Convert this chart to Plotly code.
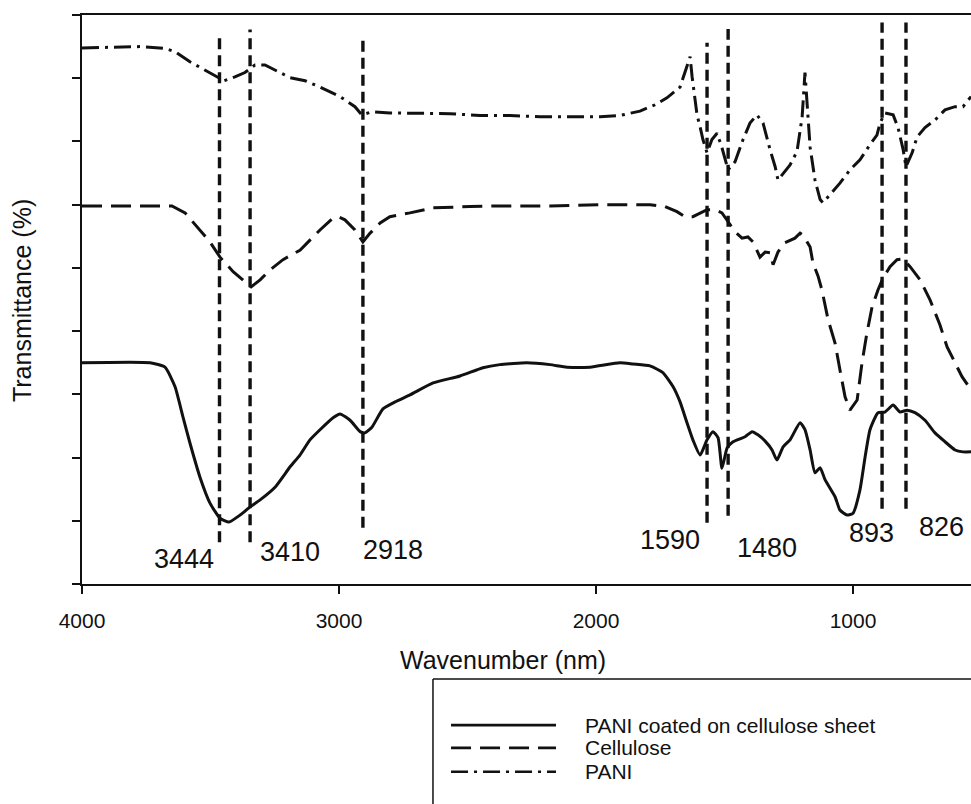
import plotly.graph_objects as go

# ---------------- data ----------------
# PANI coated on cellulose sheet (solid)
wn_coated = [4000, 3735, 3677, 3638, 3607, 3580, 3541, 3502, 3463, 3428, 3385, 3346, 3307, 3249,
             3191, 3152, 3113, 3074, 3023, 2996, 2957, 2918, 2899, 2872, 2829, 2782, 2724, 2634,
             2529, 2440, 2374, 2269, 2179, 2113, 2023, 1907, 1856, 1790, 1739, 1700, 1673, 1646,
             1623, 1595, 1568, 1545, 1525, 1510, 1490, 1467, 1420, 1393, 1370, 1342, 1315, 1296,
             1272, 1245, 1206, 1187, 1167, 1148, 1128, 1109, 1070, 1051, 1023, 1000, 973, 953,
             934, 903, 876, 844, 817, 790, 759, 720, 681, 642, 603, 572, 541]
t_coated = [35.0, 35.0, 34.3, 31.2, 26.4, 22.3, 16.9, 12.8, 10.4, 9.8, 10.9, 12.2, 13.3, 15.3,
            18.5, 20.4, 22.8, 24.4, 26.3, 26.9, 25.9, 24.1, 23.9, 24.8, 27.7, 28.8, 29.9, 31.8,
            32.9, 34.2, 34.7, 35.0, 34.7, 34.3, 34.3, 35.0, 34.8, 34.5, 33.4, 31.2, 28.8, 25.5,
            22.8, 20.4, 22.8, 24.1, 23.1, 18.3, 21.5, 22.5, 23.3, 24.1, 23.6, 22.6, 21.2, 19.6,
            21.7, 22.8, 25.5, 24.4, 21.2, 17.6, 18.4, 16.5, 13.8, 11.7, 10.9, 11.2, 14.9, 20.1,
            24.4, 27.1, 27.2, 28.3, 27.2, 27.5, 27.1, 25.9, 23.9, 22.5, 21.2, 20.9, 20.9]

# Cellulose (dashed)
wn_cell = [4000, 3650, 3599, 3541, 3502, 3463, 3412, 3366, 3342, 3307, 3268, 3218, 3152, 3113,
           3074, 3023, 3004, 2977, 2938, 2907, 2879, 2840, 2802, 2724, 2634, 2490, 2374, 2179,
           1957, 1790, 1732, 1685, 1654, 1623, 1595, 1568, 1537, 1510, 1486, 1459, 1432, 1409,
           1389, 1362, 1342, 1323, 1311, 1292, 1265, 1226, 1206, 1195, 1167, 1156, 1136, 1121,
           1097, 1070, 1051, 1031, 1012, 984, 965, 946, 926, 903, 883, 856, 829, 805, 778, 739,
           700, 662, 634, 603, 576, 541]
t_cell = [59.8, 59.8, 58.7, 56.0, 54.1, 51.7, 49.4, 47.8, 47.0, 48.1, 49.7, 51.3, 52.8, 54.4,
          56.0, 57.9, 58.1, 57.6, 56.0, 54.1, 55.5, 57.1, 58.1, 58.7, 59.5, 59.7, 59.8, 59.8,
          60.0, 60.0, 59.7, 58.9, 58.1, 58.1, 58.7, 59.2, 59.2, 58.7, 57.3, 55.7, 54.7, 54.9,
          54.1, 51.7, 52.5, 52.4, 50.5, 52.5, 54.0, 54.7, 55.5, 55.2, 53.3, 50.8, 48.7, 46.5,
          41.8, 38.1, 33.9, 29.6, 27.5, 29.1, 35.0, 39.7, 43.8, 46.5, 48.4, 50.2, 51.3, 51.4,
          50.2, 48.1, 44.9, 41.0, 37.5, 35.0, 32.8, 30.7]

# PANI (dash-dot)
wn_pani = [4000, 3774, 3677, 3638, 3580, 3521, 3482, 3447, 3405, 3366, 3327, 3288, 3230, 3191,
           3132, 3074, 2996, 2938, 2911, 2872, 2802, 2685, 2568, 2451, 2335, 2218, 2101, 1984,
           1907, 1829, 1770, 1724, 1673, 1646, 1634, 1626, 1615, 1607, 1595, 1584, 1568, 1549,
           1529, 1510, 1486, 1459, 1428, 1401, 1374, 1350, 1323, 1303, 1292, 1272, 1245, 1218,
           1198, 1187, 1179, 1167, 1148, 1128, 1117, 1089, 1051, 1012, 973, 934, 907, 895, 876,
           844, 825, 805, 794, 770, 751, 720, 681, 642, 603, 572, 541]
t_pani = [84.8, 85.0, 84.7, 84.2, 82.6, 81.2, 80.4, 79.6, 80.2, 80.9, 82.1, 82.1, 80.9, 80.1,
          79.6, 78.6, 77.1, 75.5, 74.2, 74.7, 74.5, 74.5, 74.4, 74.1, 74.1, 73.9, 73.9, 73.9,
          74.1, 74.8, 75.8, 76.9, 78.6, 81.8, 83.4, 80.2, 77.1, 74.2, 72.3, 70.3, 68.2, 70.3,
          71.3, 69.0, 65.5, 66.8, 70.3, 72.9, 74.2, 72.9, 68.7, 66.0, 63.9, 65.0, 66.3, 68.4,
          73.9, 80.9, 76.1, 69.1, 63.9, 60.8, 60.3, 61.6, 63.4, 65.5, 67.1, 69.5, 71.0, 72.9,
          74.5, 74.2, 72.2, 68.7, 66.0, 68.2, 70.7, 72.2, 73.4, 75.0, 75.5, 75.5, 77.1]

# marked bands: drawn position, label text, label position
band_x = [3465, 3346, 2907, 1568, 1486, 887, 794]
band_top = [86.4, 87.7, 86.6, 85.6, 87.8, 88.8, 88.8]
band_bottom = [6.6, 6.6, 8.9, 9.7, 10.8, 11.9, 11.9]
band_labels = ["3444", "3410", "2918", "1590", "1480", "893", "826"]
label_x = [3603, 3191, 2790, 1712, 1335, 930, 654]
label_y = [4.0, 5.1, 5.4, 7.0, 5.7, 8.1, 9.0]

x_ticks = [4000, 3000, 2000, 1000]
y_ticks = [0, 10, 20, 30, 40, 50, 60, 70, 80, 90]

series_names = ["PANI coated on cellulose sheet", "Cellulose", "PANI"]

# ---------------- figure ----------------
FONT = "Arial, Liberation Sans, Helvetica, sans-serif"
INK = "#111111"
dash_styles = ["solid", "20px,9px", "17px,6px,3px,6px"]

fig = go.Figure()
series = [(wn_coated, t_coated), (wn_cell, t_cell), (wn_pani, t_pani)]
for (xs, ys), name, dsh in zip(series, series_names, dash_styles):
    fig.add_trace(go.Scatter(
        x=xs, y=ys, mode="lines", name=name,
        line=dict(color=INK, width=3, dash=dsh,
                  shape="spline" if dsh == "solid" else "linear", smoothing=0.5),
        showlegend=False, hoverinfo="skip"))

for bx, b0, b1 in zip(band_x, band_bottom, band_top):
    fig.add_trace(go.Scatter(
        x=[bx, bx], y=[b0, b1], mode="lines",
        line=dict(color=INK, width=3.4, dash="11px,6px"),
        showlegend=False, hoverinfo="skip"))

for txt, lx, ly in zip(band_labels, label_x, label_y):
    fig.add_annotation(x=lx, y=ly, xref="x", yref="y", text=txt, showarrow=False,
                       font=dict(family=FONT, size=27, color=INK),
                       xanchor="center", yanchor="middle")

# axis titles
fig.add_annotation(x=0.4736, y=-0.134, xref="paper", yref="paper", text="Wavenumber (nm)",
                   showarrow=False, font=dict(family=FONT, size=25, color=INK),
                   xanchor="center", yanchor="middle")
fig.add_annotation(x=-0.0675, y=0.499, xref="paper", yref="paper", text="Transmittance (%)",
                   showarrow=False, textangle=-90, font=dict(family=FONT, size=25, color=INK),
                   xanchor="center", yanchor="middle")

# hand-drawn legend box as in the original (runs off the right and bottom edges)
fig.add_shape(type="line", xref="paper", yref="paper", x0=0.3948, x1=1.0, y0=-0.167, y1=-0.167,
              line=dict(color=INK, width=1.5))
fig.add_shape(type="line", xref="paper", yref="paper", x0=0.3948, x1=0.3948, y0=-0.167, y1=-0.42,
              line=dict(color=INK, width=1.5))
leg_y = [-0.248, -0.288, -0.330]
for name, dsh, ly in zip(series_names, dash_styles, leg_y):
    fig.add_shape(type="line", xref="paper", yref="paper", x0=0.4151, x1=0.5332, y0=ly, y1=ly,
                  line=dict(color=INK, width=2.6, dash=dsh))
    fig.add_annotation(x=0.5636, y=ly, xref="paper", yref="paper", text=name, showarrow=False,
                       font=dict(family=FONT, size=21, color=INK),
                       xanchor="left", yanchor="middle")

fig.update_layout(
    width=971, height=804, autosize=False,
    margin=dict(l=82, r=0, t=15, b=220),
    paper_bgcolor="white", plot_bgcolor="white",
    showlegend=False,
    xaxis=dict(range=[4000, 541], tickvals=x_ticks, ticktext=[str(v) for v in x_ticks],
               ticks="outside", ticklen=8, tickwidth=1.5, tickcolor=INK,
               showline=True, linecolor=INK, linewidth=1.5, mirror=True,
               showgrid=False, zeroline=False, ticklabelstandoff=9,
               tickfont=dict(family=FONT, size=21, color=INK)),
    yaxis=dict(range=[0, 90], tickvals=y_ticks, showticklabels=False,
               ticks="outside", ticklen=8, tickwidth=1.5, tickcolor=INK,
               showline=True, linecolor=INK, linewidth=1.5, mirror=False,
               showgrid=False, zeroline=False),
)

fig.write_html("out.html", config={"displayModeBar": False})
